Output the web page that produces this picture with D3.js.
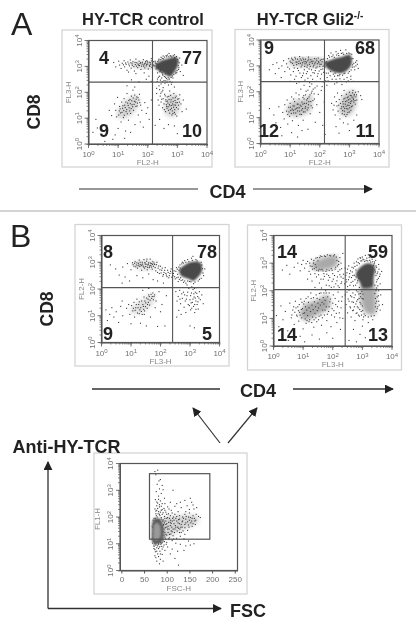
<!DOCTYPE html>
<html>
<head>
<meta charset="utf-8">
<script src="https://cdn.jsdelivr.net/npm/d3@7"></script>
<style>
html, body { margin: 0; padding: 0; background: #fff; }
svg { display: block; font-family: "Liberation Sans", Arial, sans-serif; }
</style>
</head>
<body>
<div id="chart"></div>
<script>
// TICK VALUES
const decades = [0, 1, 2, 3, 4];
const fscTicks = [0, 50, 100, 150, 200, 250];

// QUADRANT PERCENTAGES (UL, UR, LL, LR)
const a1Percent = [4, 77, 9, 10];
const a2Percent = [9, 68, 12, 11];
const b1Percent = [8, 78, 9, 5];
const b2Percent = [14, 59, 14, 13];

// AXIS NAMES
const a1Names = ["FL2-H", "FL3-H"];
const a2Names = ["FL2-H", "FL3-H"];
const b1Names = ["FL3-H", "FL2-H"];
const b2Names = ["FL3-H", "FL2-H"];
const cNames = ["FSC-H", "FL1-H"];

// DENSE BLOB OUTLINES, READ IN LOG DECADES
const a1Core = [[2.25,3.05],[2.42,3.2],[2.7,3.3],[2.97,3.36],[3.03,3.1],[2.92,2.82],[2.75,2.6],[2.55,2.72],[2.32,2.87]];
const a2Core = [[2.16,3.1],[2.4,3.24],[2.7,3.33],[3.02,3.42],[3.08,3.1],[2.92,2.82],[2.65,2.72],[2.32,2.85]];
const b1Core = [[2.64,2.72],[2.85,2.92],[3.1,3.02],[3.36,2.97],[3.4,2.65],[3.15,2.32],[2.95,2.38],[2.7,2.5]];
const b2Core = [[2.78,2.6],[2.95,2.87],[3.2,3.0],[3.42,2.87],[3.38,2.45],[3.34,2.15],[3.02,2.1],[2.92,2.3]];

// LOOSER CLOUD OUTLINES, DRAWN AS A FAINT HAZE UNDER THE POINTS
const b2HazeLow = [[2.95,2.15],[3.42,2.15],[3.46,1.6],[3.42,1.15],[3.1,1.2],[2.95,1.6]];
const b2HazeLeft = [[1.3,3.0],[1.72,3.22],[2.1,3.28],[2.16,2.95],[1.8,2.75],[1.35,2.78]];
const a2HazeLeft = [[1.0,3.22],[1.5,3.33],[2.1,3.27],[2.15,3.0],[1.6,2.95],[1.05,3.02]];
const a1HazeLow = [[2.55,1.25],[2.68,1.85],[2.98,1.88],[3.08,1.4],[2.85,1.05]];
const a2HazeLow = [[2.66,1.2],[2.8,1.85],[3.14,2.05],[3.25,1.6],[3.02,1.1]];
const b2HazeLL = [[0.9,1.1],[1.05,1.5],[1.45,1.65],[1.82,1.85],[1.9,1.4],[1.45,1.1],[1.1,0.92]];
const a2HazeLL = [[0.88,1.15],[1.05,1.6],[1.5,1.72],[1.72,1.9],[1.7,1.3],[1.3,1.05]];
const a1HazeLL = [[0.95,1.1],[1.15,1.55],[1.5,1.85],[1.72,1.75],[1.55,1.25],[1.2,1.0]];
const b1HazeUL = [[1.05,2.98],[1.5,3.08],[1.85,3.0],[1.8,2.75],[1.3,2.72]];
const b1HazeLL = [[0.95,1.2],[1.3,1.55],[1.75,1.82],[1.78,1.5],[1.3,1.08]];
const a1HazeUL = [[1.4,3.12],[1.9,3.18],[2.22,3.15],[2.2,2.92],[1.7,2.92]];

// POINTS, [x, y] READ IN LOG DECADES
const a1Points = [[0.85,3.15],[0.92,2.98],[1.02,3.2],[1.05,3.05],[1.1,2.92],[1.14,3.12],[1.2,3.22],[1.22,2.98],[1.27,3.08],[1.3,2.85],[1.33,3.17],[1.38,3.02],[1.41,3.25],[1.44,2.93],[1.47,3.1],[1.5,3.18],[1.53,2.99],[1.55,2.82],[1.58,3.07],[1.6,3.28],[1.63,3.14],[1.66,2.95],[1.69,3.05],[1.71,3.2],[1.74,3.11],[1.77,2.88],[1.79,3.01],[1.82,3.16],[1.85,3.26],[1.87,3.06],[1.9,2.94],[1.92,3.13],[1.95,3.02],[1.97,3.22],[2.0,3.09],[2.02,2.9],[2.05,3.16],[2.07,3.0],[2.1,3.08],[2.12,3.3],[2.14,2.96],[2.16,3.12],[2.18,3.04],[2.2,3.18],[1.35,2.78],[1.6,2.72],[1.88,2.75],[2.04,2.62],[1.45,2.48],[1.7,2.4],[1.95,2.5],[2.12,2.42],[1.3,2.25],[1.56,2.2],
[2.22,3.02],[2.25,3.2],[2.28,2.9],[2.3,3.1],[2.33,2.75],[2.36,2.95],[2.38,3.28],[2.4,2.62],[2.42,2.82],[2.45,3.35],[2.47,2.55],[2.5,2.7],[2.52,3.4],[2.55,2.45],[2.6,2.58],[2.62,3.42],[2.68,2.48],[2.72,3.5],[2.78,3.4],[2.85,2.55],[2.9,3.45],[2.95,2.72],[3.02,3.2],[3.05,2.95],[3.08,3.32],[3.1,2.8],[3.15,3.05],[3.2,2.65],[2.32,2.42],[2.38,2.25],[2.45,2.32],[2.52,2.18],[2.58,2.35],[2.3,2.15],[2.7,2.28],[2.82,2.38],[2.9,2.2],
[2.3,1.95],[2.35,1.7],[2.38,1.5],[2.42,1.85],[2.45,1.62],[2.48,2.02],[2.5,1.4],[2.52,1.75],[2.55,1.55],[2.57,1.92],[2.6,1.25],[2.62,1.65],[2.64,1.45],[2.66,1.82],[2.68,1.58],[2.7,1.3],[2.72,1.72],[2.74,2.05],[2.75,1.48],[2.77,1.88],[2.78,1.62],[2.8,1.38],[2.82,1.12],[2.84,1.55],[2.85,1.78],[2.87,1.42],[2.88,1.95],[2.9,1.22],[2.92,1.68],[2.94,1.5],[2.96,1.85],[2.98,1.08],[3.0,1.6],[3.03,1.35],[3.05,1.75],[3.08,1.9],[3.12,1.55],[3.16,1.25],[3.2,1.7],[2.55,0.6],[2.7,0.75],[2.4,0.95],[3.0,0.4],[2.9,0.7],[3.3,1.35],
[0.7,1.3],[0.78,1.1],[0.62,0.72],[0.88,1.55],[0.92,1.3],[0.95,1.05],[0.98,1.8],[1.0,0.6],[1.05,1.45],[1.08,1.2],[1.1,0.85],[1.12,1.62],[1.15,1.38],[1.18,1.02],[1.2,1.75],[1.22,1.5],[1.25,0.5],[1.27,1.25],[1.3,1.95],[1.32,1.58],[1.35,0.92],[1.37,1.4],[1.4,1.72],[1.42,1.18],[1.45,1.85],[1.47,1.52],[1.5,2.08],[1.52,1.3],[1.55,1.65],[1.57,0.75],[1.6,1.45],[1.63,1.82],[1.65,1.58],[1.68,1.12],[1.7,1.7],[1.72,1.92],[1.76,1.5],[1.8,1.3],[1.85,0.65],[1.9,1.6],[1.95,1.18],[2.0,1.4],[2.05,0.95],[2.12,1.7],[0.25,0.95],[0.3,0.62],[0.15,0.45],[0.55,0.1],[0.9,0.35],[1.22,0.22],[0.82,0.18],[1.42,0.45],[1.75,0.85],[2.25,0.72]];
const a1Extra = [[2.17,3.07],[2.13,3.21],[2.09,3.14],[2.06,3.04],[1.99,3.17],[1.96,3.08],[1.93,3.19],[1.89,3.1],[1.86,3.01],[1.81,3.09],[1.76,3.15],[1.72,3.03],[1.67,3.09],[1.62,3.01],[1.57,3.15],[1.48,3.04],[1.43,3.14],[1.36,3.09],[1.25,3.13],[1.18,3.06],
[2.26,3.13],[2.29,3.01],[2.31,2.94],[2.34,3.19],[2.37,3.24],[2.35,3.07],[2.41,2.79],[2.43,2.87],[2.44,3.26],[2.48,2.76],[2.49,3.31],[2.51,2.66],[2.53,3.29],[2.56,2.61],[2.57,3.36],[2.59,2.71],[2.63,2.53],[2.64,3.37],[2.67,3.44],[2.69,2.56],[2.71,3.37],[2.73,2.51],[2.76,3.41],[2.79,2.57],[2.81,3.36],[2.83,2.63],[2.86,3.41],[2.88,2.69],[2.91,3.34],[2.93,2.78],[2.97,3.38],[2.99,2.84],[3.01,3.27],[3.03,3.03],[3.06,3.14],[3.04,2.88],[2.98,2.77],[2.61,2.44],[2.66,2.39],[2.43,2.47],[2.49,2.41],[2.36,2.58],[2.33,2.51],[2.75,2.42],[2.8,2.31],
[2.59,1.86],[2.61,1.71],[2.63,1.52],[2.65,1.38],[2.67,1.66],[2.69,1.44],[2.71,1.84],[2.73,1.53],[2.76,1.33],[2.79,1.71],[2.81,1.49],[2.83,1.28],[2.86,1.64],[2.89,1.51],[2.91,1.33],[2.93,1.79],[2.95,1.6],[2.97,1.41],[3.01,1.73],[3.04,1.5],[2.74,1.19],[2.85,1.18],[2.93,1.15],[3.07,1.62],[2.56,1.33],[2.47,1.73],[2.44,1.96],[2.4,2.1],[2.51,2.08],
[1.02,1.12],[1.04,1.28],[1.07,1.36],[1.13,1.22],[1.16,1.48],[1.19,1.29],[1.21,1.11],[1.24,1.41],[1.26,1.62],[1.29,1.33],[1.31,1.17],[1.34,1.49],[1.36,1.68],[1.39,1.28],[1.41,1.56],[1.44,1.37],[1.46,1.67],[1.49,1.44],[1.51,1.78],[1.54,1.53],[1.56,1.89],[1.59,1.62],[1.61,1.73],[1.64,1.47],[1.67,1.79],[1.73,1.6]];

const a2Points = [[0.3,2.85],[0.42,3.05],[0.5,2.7],[0.55,3.12],[0.62,2.9],[0.7,2.55],[0.72,3.0],[0.78,3.2],[0.82,2.78],[0.88,3.08],[0.92,2.95],[0.95,3.28],[1.0,3.18],[1.02,2.65],[1.05,3.3],[1.08,3.1],[1.1,3.22],[1.14,2.92],[1.16,3.33],[1.2,3.15],[1.22,3.05],[1.25,3.26],[1.28,2.82],[1.3,3.18],[1.32,3.36],[1.35,3.1],[1.38,3.22],[1.4,3.03],[1.43,3.3],[1.45,2.72],[1.47,3.16],[1.5,3.08],[1.52,3.26],[1.55,3.12],[1.57,2.95],[1.6,3.2],[1.62,3.34],[1.65,3.06],[1.67,3.14],[1.7,3.24],[1.72,2.85],[1.75,3.1],[1.77,3.18],[1.8,3.02],[1.82,3.28],[1.85,3.14],[1.87,2.92],[1.9,3.2],[1.92,3.08],[1.95,3.3],[1.97,3.12],[2.0,2.98],[2.02,3.22],[2.05,3.06],[2.08,3.16],[2.1,2.88],[2.12,3.26],[2.15,3.02],[2.18,3.12],[1.0,2.4],[1.15,2.48],[1.2,2.6],[1.3,2.38],[1.38,2.55],[1.42,2.62],[1.5,2.45],[1.55,2.7],[1.6,2.52],[1.66,2.35],[1.7,2.62],[1.76,2.48],[1.82,2.72],[1.88,2.4],[1.92,2.6],[1.98,2.8],[2.02,2.5],[2.06,2.68],[2.12,2.38],[2.16,2.62],
[2.22,2.72],[2.25,2.55],[2.28,2.42],[2.3,3.4],[2.35,2.62],[2.38,3.5],[2.42,2.48],[2.45,3.42],[2.5,2.6],[2.55,3.55],[2.58,2.35],[2.62,3.48],[2.65,2.62],[2.7,3.6],[2.72,2.4],[2.78,3.5],[2.82,2.7],[2.88,3.62],[2.92,2.55],[2.98,3.5],[3.0,2.78],[3.05,2.6],[3.08,3.45],[3.1,2.95],[3.12,3.28],[3.15,3.1],[3.18,2.85],[3.22,3.0],[3.25,3.2],[3.3,2.9],[3.14,2.4],[2.5,2.3],[2.75,2.28],[2.9,2.38],
[2.4,1.55],[2.45,1.3],[2.5,1.8],[2.52,1.1],[2.58,1.45],[2.6,1.95],[2.62,1.25],[2.66,1.7],[2.68,0.95],[2.7,1.55],[2.72,1.35],[2.74,1.85],[2.76,1.15],[2.78,1.62],[2.8,1.42],[2.82,2.05],[2.83,1.25],[2.85,1.75],[2.86,1.52],[2.88,1.05],[2.9,1.9],[2.91,1.35],[2.92,1.65],[2.94,1.48],[2.95,1.2],[2.96,1.8],[2.98,1.58],[3.0,1.98],[3.01,1.38],[3.02,1.72],[3.04,1.55],[3.05,1.28],[3.06,1.85],[3.08,1.65],[3.1,1.45],[3.12,2.05],[3.13,1.75],[3.15,1.6],[3.17,1.9],[3.2,1.52],[3.22,1.8],[3.25,1.68],[3.3,2.0],[3.38,1.85],[3.42,1.7],[2.55,0.65],[2.8,0.8],[3.0,0.5],[2.65,0.4],[3.15,0.9],[2.95,0.75],[3.25,1.1],
[0.3,1.35],[0.45,1.1],[0.52,0.8],[0.62,1.42],[0.68,0.62],[0.75,1.2],[0.8,0.95],[0.82,1.5],[0.88,1.25],[0.9,1.68],[0.92,0.75],[0.95,1.4],[0.98,1.05],[1.0,1.55],[1.02,1.28],[1.05,1.8],[1.08,0.88],[1.1,1.45],[1.12,1.18],[1.15,1.62],[1.17,1.32],[1.2,1.95],[1.22,1.05],[1.24,1.52],[1.26,1.38],[1.28,0.7],[1.3,1.72],[1.32,1.25],[1.34,1.48],[1.36,2.1],[1.38,1.12],[1.4,1.6],[1.42,1.35],[1.44,0.9],[1.46,1.85],[1.48,1.55],[1.5,1.22],[1.52,1.42],[1.54,2.02],[1.56,1.68],[1.58,1.3],[1.6,0.55],[1.62,1.5],[1.64,1.8],[1.66,2.2],[1.68,1.15],[1.7,1.62],[1.72,1.95],[1.75,1.38],[1.78,2.1],[1.82,1.72],[1.85,0.82],[1.9,1.5],[1.95,1.9],[2.0,1.2],[2.05,2.05],[2.1,0.7],[2.15,1.6],[2.18,0.35],[1.05,0.42],[1.25,0.25],[0.72,0.3],[1.4,0.5],[0.45,0.45]];
const a2Extra = [[1.03,3.13],[1.07,3.25],[1.12,3.02],[1.18,3.27],[1.23,3.14],[1.29,3.09],[1.34,3.27],[1.37,2.96],[1.42,3.12],[1.46,3.24],[1.49,2.98],[1.53,3.17],[1.58,3.03],[1.63,3.26],[1.68,2.98],[1.73,3.17],[1.78,2.96],[1.83,3.08],[1.88,3.27],[1.91,2.96],[1.96,3.16],[2.01,3.06],[2.07,3.25],[2.11,2.98],[0.98,2.88],[1.11,2.78],[1.25,2.9],[1.33,2.72],[1.48,2.85],[1.58,2.78],[1.64,2.88],[1.77,2.74],[1.85,2.82],[1.94,2.7],[2.04,2.86],[2.13,2.75],[1.22,2.32],[1.47,2.25],[1.73,2.3],[1.91,2.22],[2.08,2.2],[2.2,2.42],[2.24,2.25],
[2.18,2.96],[2.22,3.16],[2.26,3.28],[2.29,2.72],[2.33,3.34],[2.37,2.78],[2.41,3.36],[2.46,2.68],[2.49,3.33],[2.52,2.72],[2.57,3.42],[2.6,2.62],[2.64,3.4],[2.68,2.66],[2.73,3.48],[2.77,2.64],[2.81,3.44],[2.85,2.72],[2.91,3.48],[2.96,2.72],[3.02,3.47],[3.08,3.28],[3.11,3.04],[3.06,2.84],[3.16,2.96],[3.21,3.14],[3.27,3.06],[2.55,2.48],[2.68,2.5],[2.82,2.48],[2.96,2.42],[3.05,2.48],
[2.74,1.42],[2.77,1.27],[2.79,1.53],[2.81,1.72],[2.84,1.36],[2.87,1.62],[2.89,1.44],[2.93,1.77],[2.95,1.33],[2.97,1.69],[2.99,1.47],[3.03,1.86],[3.05,1.62],[3.07,1.42],[3.09,1.79],[3.11,1.96],[3.14,1.69],[3.16,1.84],[3.19,1.66],[3.21,1.98],[3.24,1.88],[2.83,1.12],[2.92,1.12],[3.0,1.22],[2.64,1.48],[2.56,1.62],[2.48,1.48],
[0.92,1.12],[0.96,1.22],[1.01,1.4],[1.04,1.16],[1.07,1.33],[1.11,1.28],[1.14,1.45],[1.19,1.18],[1.21,1.36],[1.25,1.26],[1.27,1.52],[1.31,1.38],[1.33,1.13],[1.37,1.44],[1.39,1.29],[1.43,1.52],[1.45,1.22],[1.47,1.72],[1.51,1.36],[1.55,1.55],[1.59,1.74],[1.61,1.38],[1.63,1.62],[1.67,1.88],[1.71,1.46],[1.74,2.02],[1.77,1.66],[1.81,1.92],[1.84,2.15],[1.6,2.06],[1.52,1.88],[1.43,1.78],[1.3,1.88],[1.12,1.72]];

const b1Points = [[0.3,2.9],[0.48,2.75],[0.6,2.52],[0.72,2.82],[0.8,2.45],[0.88,2.95],[1.0,2.72],[1.05,2.98],[1.1,2.85],[1.14,3.02],[1.18,2.9],[1.22,2.78],[1.25,2.96],[1.28,3.08],[1.3,2.84],[1.33,2.92],[1.36,2.7],[1.38,3.0],[1.41,2.86],[1.44,3.1],[1.46,2.78],[1.48,2.94],[1.5,2.84],[1.53,3.04],[1.55,2.72],[1.57,2.9],[1.6,2.98],[1.62,2.8],[1.65,3.12],[1.67,2.88],[1.7,2.95],[1.72,2.74],[1.74,3.02],[1.76,2.85],[1.8,2.92],[1.84,2.68],[1.88,3.0],[1.92,2.78],[1.96,2.58],[2.0,2.85],[2.04,2.7],[2.08,2.48],[2.12,2.62],[2.16,2.8],[2.2,2.52],[2.24,2.7],[2.28,2.42],[2.32,2.58],[2.36,2.75],[1.2,2.5],[1.4,2.42],[1.6,2.56],[1.75,2.35],[1.9,2.3],[2.1,2.22],[0.7,2.22],[0.95,2.3],
[2.42,2.5],[2.46,2.68],[2.5,2.38],[2.54,2.8],[2.58,2.55],[2.6,2.28],[2.63,2.7],[2.66,2.9],[2.7,2.32],[2.74,3.0],[2.78,2.25],[2.82,3.06],[2.86,2.22],[2.92,3.1],[2.98,2.28],[3.05,3.15],[3.12,2.2],[3.2,3.1],[3.28,2.3],[3.4,2.9],[3.44,2.6],[3.38,2.4],[3.5,2.75],[3.1,3.22],[2.9,2.15],
[2.52,1.9],[2.56,1.55],[2.6,1.72],[2.62,1.2],[2.65,1.95],[2.68,1.45],[2.7,1.05],[2.74,1.65],[2.78,1.88],[2.8,1.32],[2.84,1.55],[2.86,1.12],[2.9,1.75],[2.94,1.42],[2.96,2.02],[3.0,1.6],[3.02,1.22],[3.05,1.85],[3.08,1.5],[3.1,1.98],[3.12,1.35],[3.14,1.7],[3.16,1.12],[3.18,1.88],[3.2,1.55],[3.22,2.05],[3.24,1.42],[3.26,1.72],[3.28,1.25],[3.32,1.9],[3.35,1.6],[3.4,1.78],[3.45,1.45],[3.0,0.62],[3.15,0.55],[2.55,0.95],
[0.15,1.22],[0.2,0.82],[0.28,1.05],[0.35,1.3],[0.42,0.95],[0.5,1.15],[0.58,0.75],[0.65,1.35],[0.72,1.0],[0.85,1.28],[0.92,1.42],[0.96,1.05],[1.0,0.7],[1.02,1.38],[1.06,1.18],[1.1,1.5],[1.12,0.95],[1.16,1.3],[1.2,1.62],[1.22,1.1],[1.26,1.42],[1.3,1.22],[1.32,0.72],[1.36,1.55],[1.38,1.05],[1.42,1.35],[1.44,1.7],[1.46,1.18],[1.5,1.48],[1.52,0.62],[1.55,1.28],[1.58,1.62],[1.6,1.78],[1.63,1.4],[1.66,0.95],[1.7,1.65],[1.74,1.85],[1.78,1.72],[1.82,1.3],[1.85,1.55],[1.9,0.6],[1.95,1.9],[2.05,1.42],[2.15,0.62],[2.2,1.75],[0.7,1.55],[1.4,1.95],[1.6,2.02],[2.0,1.15]];
const b1Extra = [[1.07,2.91],[1.12,2.96],[1.16,2.83],[1.2,2.98],[1.24,2.87],[1.27,2.9],[1.31,3.0],[1.35,2.88],[1.39,2.93],[1.43,2.82],[1.47,2.99],[1.51,2.92],[1.54,3.12],[1.56,2.81],[1.59,2.93],[1.63,2.86],[1.66,2.97],[1.69,2.82],[1.73,2.92],[1.78,2.97],[1.82,2.8],[1.86,2.91],[1.9,2.62],[1.94,2.86],[1.98,2.72],[2.02,2.6],[2.06,2.78],[2.1,2.54],[2.14,2.7],[2.18,2.58],[2.22,2.46],[2.26,2.62],[2.3,2.5],[2.34,2.66],[2.38,2.44],[2.4,2.6],
[2.44,2.58],[2.48,2.46],[2.52,2.66],[2.55,2.42],[2.57,2.74],[2.6,2.44],[2.62,2.82],[2.64,2.36],[2.67,2.78],[2.68,2.42],[2.72,2.94],[2.75,2.34],[2.78,2.97],[2.82,2.3],[2.86,3.0],[2.92,2.3],[2.96,3.02],[3.03,2.27],[3.08,3.07],[3.17,2.26],[3.24,3.05],[3.32,2.36],[3.38,3.0],[3.42,2.76],[3.46,2.5],
[2.88,1.62],[2.92,1.88],[2.98,1.38],[3.02,1.75],[3.04,1.48],[3.06,1.28],[3.1,1.62],[3.13,1.82],[3.16,1.42],[3.18,1.66],[3.2,1.24],[3.23,1.84],[3.27,1.52],[3.3,1.66],[2.82,1.78],[2.72,1.82],[2.66,1.62],[3.15,2.02],[3.06,2.08],
[1.08,1.28],[1.14,1.2],[1.18,1.42],[1.24,1.3],[1.28,1.52],[1.33,1.3],[1.35,1.16],[1.4,1.42],[1.43,1.24],[1.47,1.55],[1.49,1.34],[1.53,1.66],[1.56,1.42],[1.59,1.5],[1.62,1.72],[1.65,1.58],[1.68,1.8],[1.72,1.72],[1.76,1.6],[1.8,1.78],[1.28,1.08],[1.45,1.05]];

const b2Points = [[0.3,2.75],[0.45,2.92],[0.55,2.6],[0.7,2.85],[0.82,3.0],[0.9,2.72],[0.95,2.95],[1.0,3.1],[1.05,2.82],[1.1,2.98],[1.15,3.06],[1.2,2.7],[1.24,2.9],[1.28,3.14],[1.32,2.78],[1.35,3.0],[1.4,2.62],[1.44,2.85],[1.48,3.2],[1.52,2.72],[1.58,3.26],[1.64,2.78],[1.7,2.62],[1.75,3.24],[1.8,2.76],[1.86,2.55],[1.9,3.28],[1.95,2.8],[2.0,2.62],[2.06,3.3],[2.1,2.85],[2.14,3.1],[2.18,2.7],[2.2,2.95],[2.24,3.2],[2.28,2.5],[2.3,2.8],[2.34,3.35],[1.15,2.42],[1.3,2.35],[1.45,2.5],[1.55,2.28],[1.68,2.42],[1.78,2.2],[1.85,2.38],[1.95,2.12],[2.02,2.42],[2.1,2.25],[2.16,2.5],[2.22,2.12],[2.3,2.32],[1.4,2.12],[1.62,2.1],
[2.36,2.6],[2.4,2.25],[2.42,2.82],[2.45,2.4],[2.48,2.65],[2.5,2.15],[2.54,2.9],[2.56,2.5],[2.6,2.72],[2.62,2.3],[2.65,2.85],[2.68,2.55],[2.7,2.18],[2.72,3.0],[2.75,2.4],[2.78,2.75],[2.8,3.05],[2.82,2.28],[2.85,3.15],[2.88,2.45],[2.9,2.12],[2.92,3.2],[2.95,3.08],[3.0,3.22],[3.05,3.12],[3.1,3.28],[3.15,3.18],[3.2,3.3],[3.25,3.1],[3.3,3.2],[3.35,3.05],[3.4,2.98],[3.42,2.75],[3.45,3.1],[3.46,2.55],[3.48,2.85],[3.5,2.4],[3.52,2.68],[3.55,2.95],[3.58,2.52],[3.6,2.25],[3.42,2.2],[3.48,2.1],[3.55,2.0],[3.65,2.7],
[2.42,1.85],[2.45,1.5],[2.48,1.95],[2.5,1.2],[2.52,1.7],[2.55,2.02],[2.58,1.42],[2.6,1.82],[2.62,1.05],[2.65,1.6],[2.68,1.92],[2.7,1.3],[2.72,1.75],[2.75,0.92],[2.78,1.52],[2.8,2.0],[2.82,1.2],[2.84,1.68],[2.86,1.38],[2.88,1.88],[2.9,1.08],[2.92,1.58],[2.94,1.78],[2.96,1.25],[2.98,1.98],[3.0,1.45],[3.02,0.95],[3.03,1.7],[3.42,1.9],[3.45,1.55],[3.47,1.25],[3.5,1.78],[3.52,1.42],[3.55,1.62],[3.6,1.3],[3.62,1.85],[3.68,1.5],[2.7,0.6],[3.0,0.72],[3.2,0.85],[2.92,0.42],[3.1,0.3],[3.35,0.95],[2.55,0.2],[3.28,0.55],[2.8,0.15],
[0.1,1.1],[0.18,0.7],[0.25,1.45],[0.32,0.95],[0.4,1.25],[0.48,0.55],[0.55,1.55],[0.6,1.02],[0.65,1.3],[0.7,0.78],[0.74,1.62],[0.78,1.12],[0.82,1.42],[0.85,0.9],[0.88,1.22],[0.92,1.7],[0.95,1.02],[0.98,1.35],[1.0,0.62],[1.02,1.52],[1.05,1.2],[1.08,1.42],[1.1,0.82],[1.12,1.3],[1.15,1.1],[1.18,1.58],[1.2,1.38],[1.22,0.95],[1.25,1.25],[1.27,1.72],[1.3,1.48],[1.32,1.05],[1.34,1.32],[1.36,0.68],[1.38,1.6],[1.4,1.18],[1.42,1.42],[1.44,1.85],[1.46,0.88],[1.48,1.28],[1.5,1.55],[1.52,1.38],[1.54,1.08],[1.56,1.68],[1.58,1.48],[1.6,1.92],[1.62,0.75],[1.64,1.58],[1.66,1.3],[1.68,1.75],[1.7,1.52],[1.72,1.12],[1.74,1.65],[1.76,2.0],[1.78,1.42],[1.8,0.92],[1.83,1.78],[1.86,1.25],[1.9,1.6],[1.94,0.7],[1.98,1.35],[2.02,1.85],[2.06,1.05],[2.1,1.5],[2.14,0.85],[2.18,1.95],[2.22,1.2],[2.26,0.6],[2.3,1.62],[2.34,1.0],[0.5,0.2],[0.9,0.35],[1.05,0.15],[1.3,0.4],[1.55,0.25],[2.0,0.28],[1.8,0.48],[0.7,0.28]];
const b2Extra = [[1.22,3.0],[1.3,2.88],[1.36,3.1],[1.38,2.8],[1.41,2.95],[1.43,3.18],[1.46,2.74],[1.5,3.08],[1.54,2.78],[1.56,3.2],[1.6,2.76],[1.63,3.24],[1.67,2.72],[1.72,3.26],[1.77,2.7],[1.82,3.3],[1.88,2.74],[1.93,3.26],[1.98,2.74],[2.03,3.26],[2.08,2.78],[2.12,3.22],[2.16,2.9],[2.2,3.06],[2.24,2.76],[2.28,3.0],[1.25,2.6],[1.52,2.58],[1.6,2.42],[1.72,2.52],[1.8,2.6],[1.9,2.48],[1.98,2.34],[2.06,2.55],[2.14,2.36],[2.24,2.58],[2.28,2.26],[2.35,2.45],[1.88,2.18],[2.04,2.14],[2.18,2.18],
[2.44,2.56],[2.47,2.32],[2.5,2.78],[2.53,2.4],[2.57,2.62],[2.58,2.2],[2.63,2.48],[2.66,2.68],[2.68,2.34],[2.7,2.82],[2.73,2.56],[2.75,2.88],[2.77,2.2],[2.79,2.5],[2.82,2.92],[2.84,2.36],[2.86,3.02],[2.9,2.98],[2.94,3.18],[2.98,3.08],[3.02,3.14],[3.08,3.06],[3.13,3.1],[3.18,3.08],[3.23,3.2],[3.28,3.04],[3.33,3.14],[3.38,2.92],[3.41,3.04],[3.44,2.68],[3.46,2.9],[3.48,2.32],[3.5,2.62],[3.52,2.18],[3.54,2.45],[3.56,2.78],[3.6,2.6],
[2.55,1.62],[2.6,1.38],[2.64,1.78],[2.67,1.28],[2.7,1.58],[2.73,1.42],[2.76,1.85],[2.79,1.18],[2.81,1.62],[2.83,1.42],[2.85,1.96],[2.87,1.12],[2.89,1.72],[2.91,1.32],[2.93,1.9],[2.95,1.52],[2.97,1.12],[2.99,1.72],[3.01,1.28],[3.02,1.88],[3.04,1.05],[3.06,1.16],[3.1,1.1],[3.2,1.05],[3.3,1.08],[3.4,1.1],[3.44,1.42],[3.44,1.72],[3.46,2.0],[3.48,1.62],[3.5,1.35],[3.54,1.82],[3.57,1.48],
[0.62,1.12],[0.68,1.42],[0.72,1.22],[0.76,1.38],[0.8,1.08],[0.84,1.28],[0.87,1.5],[0.9,1.12],[0.94,1.32],[0.96,1.58],[1.0,1.18],[1.04,1.62],[1.07,0.98],[1.1,1.72],[1.13,0.92],[1.17,1.78],[1.2,0.88],[1.26,1.92],[1.29,0.85],[1.35,1.75],[1.37,0.95],[1.43,1.02],[1.47,1.72],[1.52,0.95],[1.55,1.9],[1.6,1.12],[1.65,1.02],[1.7,1.92],[1.74,1.3],[1.78,1.92],[1.82,1.15],[1.88,1.42],[1.88,1.92],[1.92,1.7],[1.96,1.12],[2.0,1.55],[2.04,1.28],[2.08,1.72],[2.12,1.18],[2.16,1.42],[2.2,1.62],[2.24,1.02],[2.28,1.38],[2.32,1.78]];

// GATED PANEL POINTS, [FSC, LOG DECADES]
const cPoints = [[74,3.7],[80,3.75],[76,3.58],[83,3.35],[86,3.4],[79,3.22],[90,3.18],[84,3.05],[92,3.02],[77,2.95],[88,2.88],[114,3.0],[82,2.78],[95,2.7],[75,2.65],[86,2.6],[80,2.52],[90,2.5],[78,2.42],[84,2.38],[94,2.32],[74,2.3],[88,2.25],[82,2.2],[98,2.18],[76,2.12],[90,2.1],[85,2.05],[79,2.0],[95,2.02],[72,1.95],[88,1.92],[100,1.95],[83,1.88],
[105,2.3],[112,2.15],[118,2.4],[125,2.2],[132,2.35],[140,2.1],[145,2.42],[150,2.28],[155,2.55],[160,2.3],[148,2.0],[158,2.05],[165,2.1],[170,2.02],[162,1.85],[153,1.78],[142,1.92],[135,1.85],[128,2.05],[120,1.95],[112,1.85],[104,1.8],[98,1.72],[108,1.68],[116,1.75],[124,1.62],[132,1.72],[140,1.6],[148,1.7],[156,1.65],[146,1.5],[136,1.48],[128,1.42],[118,1.55],[110,1.48],[102,1.55],[96,1.42],[106,1.35],[114,1.3],[122,1.2],[130,1.28],[140,1.35],[96,1.25],[104,1.18],[112,1.12],[92,1.1],[100,1.05],[120,1.02],[130,0.98],[142,0.92],[152,0.95],[160,1.0],[148,1.1],[138,1.18],
[108,2.05],[115,2.0],[122,1.85],[128,1.75],[135,2.0],[142,1.78],[150,1.88],[156,1.95],[163,1.72],[92,1.68],[100,1.62],[106,1.95],[94,1.85],[100,2.1],[110,2.25],[118,2.1],[126,1.9],[134,1.62],[142,2.2],[150,2.15],[102,2.38],[96,2.5],[108,2.55],[122,2.5],[130,2.55],[140,2.62],[152,2.7],[166,2.35],[174,1.98],[158,2.45],
[72,0.95],[75,0.7],[78,0.85],[82,0.98],[85,0.72],[88,0.9],[74,0.55],[80,0.62],[86,0.42],[90,0.6],[78,0.35],[84,0.25],[92,0.35],[96,0.75],[102,0.88],[108,0.62],[112,0.8],[118,0.45],[124,0.72],[126,0.2],[138,0.75],[70,1.1],[68,1.2],[69,1.35],[70,1.5],[68,1.65],[71,1.75],[70,1.88],[69,1.02],[72,0.82],[73,1.05],[76,1.08],[80,1.05],[84,1.1],[88,1.02],[94,0.95],
[90,1.3],[92,1.45],[90,1.6],[93,1.72],[91,1.85],[88,1.98],[84,2.1],[78,2.25],[86,1.75],[94,1.55],[96,1.95],[98,1.35],[90,1.15],[86,1.05],[78,1.12],[74,1.02],[72,1.3],[72,1.55],[73,1.8],[75,1.95]];
const cExtra = [[77,2.05],[81,2.12],[86,2.18],[80,2.32],[76,2.22],[90,2.28],[84,2.46],[78,2.56],[82,2.66],[88,2.4],[92,2.16],[96,2.25],[98,1.85],[102,1.98],[104,2.12],[108,1.88],[110,1.76],[113,1.95],[116,1.88],[119,1.68],[122,2.02],[125,1.78],[128,1.92],[131,1.62],[134,1.82],[137,1.95],[140,1.72],[143,2.02],[146,1.82],[149,1.62],[152,1.98],[155,1.85],[158,1.75],[161,1.95],[164,1.88],[92,1.9],[95,1.78],[97,1.6],[100,1.75],[103,1.65],[105,1.55],[108,1.8],[111,1.62],[114,1.55],[117,1.42],[120,1.62],[123,1.48],[126,1.58],[129,1.55],[132,1.42],[94,1.32],[97,1.18],[100,1.32],[103,1.42],[106,1.22],[109,1.36],[112,1.45],[115,1.18],[92,1.22],[95,1.08],[99,0.98],
[69,1.25],[70,1.42],[69,1.6],[70,1.72],[72,0.9],[74,0.78],[76,0.95],[78,0.72],[80,0.92],[82,0.82],[84,0.88],[76,1.0],[73,1.12],[82,1.02],[87,0.98],[90,1.04],[92,0.88],[90,0.8],[86,0.62],[76,0.48],[82,0.52]];
const cCore = [[68,1.08],[67,1.5],[69,1.86],[78,1.96],[89,1.86],[94,1.45],[90,1.08],[78,0.98]];
const cCoreInner = [[71,1.2],[71,1.6],[76,1.78],[85,1.68],[87,1.32],[80,1.14]];
const cHazeFan = [[90,1.2],[90,1.9],[120,2.05],[165,2.05],[165,1.75],[125,1.45]];

// GATE IN FSC / DECADES
const cGate = [[62, 195], [1.17, 3.62]];

const width = 416;
const height = 631;

let svg = d3.select("#chart").append("svg")
    .attr("width", width)
    .attr("height", height);

const defs = svg.append("defs");
defs.append("filter").attr("id", "soft").append("feGaussianBlur").attr("stdDeviation", 0.3);
defs.append("filter").attr("id", "blob").append("feGaussianBlur").attr("stdDeviation", 1);
defs.append("filter").attr("id", "haze").append("feGaussianBlur").attr("stdDeviation", 2);

const root = svg.append("g").attr("filter", "url(#soft)");

const marker = defs.append("marker")
    .attr("id", "head")
    .attr("markerUnits", "userSpaceOnUse")
    .attr("viewBox", "0 0 10 10")
    .attr("refX", 9).attr("refY", 5)
    .attr("markerWidth", 9).attr("markerHeight", 9)
    .attr("orient", "auto");
marker.append("path").attr("d", "M0,0L10,5L0,10Z").attr("fill", "#222");

// DECADE LABEL: 10 WITH A RAISED EXPONENT
function decadeLabel(sel, d) {
    sel.text("10");
    sel.append("tspan").attr("dy", -2.5).style("font-size", "6px").text(d);
}

function minorTicks() {
    let out = [];
    for (let e = 0; e < 4; e++) {
        for (let m = 1; m < 10; m++) out.push(m * Math.pow(10, e));
    }
    out.push(10000);
    return out;
}

function drawLogY(g, y, x0) {
    let axis = d3.axisLeft(y).tickValues(minorTicks()).tickFormat("").tickSize(2).tickSizeOuter(0);
    let ax = g.append("g").attr("transform", "translate(" + x0 + ",0)").call(axis);
    ax.select(".domain").attr("stroke", "#555");
    ax.selectAll("line").attr("stroke", "#555").attr("stroke-width", 0.7);
    decades.forEach(function (d) {
        ax.append("line").attr("x1", -4).attr("x2", 0)
            .attr("y1", y(Math.pow(10, d))).attr("y2", y(Math.pow(10, d)))
            .attr("stroke", "#555").attr("stroke-width", 0.8);
        let t = ax.append("text")
            .attr("transform", "translate(-7," + y(Math.pow(10, d)) + ") rotate(-90)")
            .attr("text-anchor", "middle")
            .attr("fill", "#707070").style("font-size", "8px");
        decadeLabel(t, d);
    });
}

function drawLogX(g, x, y0) {
    let axis = d3.axisBottom(x).tickValues(minorTicks()).tickFormat("").tickSize(2).tickSizeOuter(0);
    let ax = g.append("g").attr("transform", "translate(0," + y0 + ")").call(axis);
    ax.select(".domain").attr("stroke", "#555");
    ax.selectAll("line").attr("stroke", "#555").attr("stroke-width", 0.7);
    decades.forEach(function (d) {
        ax.append("line").attr("y1", 0).attr("y2", 4)
            .attr("x1", x(Math.pow(10, d))).attr("x2", x(Math.pow(10, d)))
            .attr("stroke", "#555").attr("stroke-width", 0.8);
        let t = ax.append("text")
            .attr("x", x(Math.pow(10, d))).attr("y", 13)
            .attr("text-anchor", "middle")
            .attr("fill", "#707070").style("font-size", "8px");
        decadeLabel(t, d);
    });
}

// QUADRANT PANEL
function drawPanel(p) {
    let g = root.append("g");

    g.append("rect")
        .attr("x", p.frame[0]).attr("y", p.frame[1])
        .attr("width", p.frame[2] - p.frame[0]).attr("height", p.frame[3] - p.frame[1])
        .attr("fill", "none").attr("stroke", "#d4d4d4").attr("stroke-width", 1.3);

    let x = d3.scaleLog().domain([1, 10000]).range([p.plot[0], p.plot[2]]);
    let y = d3.scaleLog().domain([1, 10000]).range([p.plot[3], p.plot[1]]);
    let line = d3.line()
        .x(d => x(Math.pow(10, d[0])))
        .y(d => y(Math.pow(10, d[1])))
        .curve(d3.curveCardinalClosed);

    g.selectAll(".haze").data(p.haze).enter().append("path")
        .attr("d", d => line(d)).attr("fill", "#555").attr("opacity", p.hazeOpacity)
        .attr("filter", "url(#haze)");

    g.selectAll(".core").data(p.cores).enter().append("path")
        .attr("d", d => line(d)).attr("fill", "#484848").attr("filter", "url(#blob)");

    g.selectAll(".dot").data(p.points).enter().append("rect")
        .attr("x", d => x(Math.pow(10, d[0])) - 0.55)
        .attr("y", d => y(Math.pow(10, d[1])) - 0.55)
        .attr("width", 1.1).attr("height", 1.1)
        .attr("fill", "#3c3c3c");

    g.append("rect")
        .attr("x", p.plot[0]).attr("y", p.plot[1])
        .attr("width", p.plot[2] - p.plot[0]).attr("height", p.plot[3] - p.plot[1])
        .attr("fill", "none").attr("stroke", "#555").attr("stroke-width", 1.2);

    g.append("line").attr("x1", x(p.gate[0])).attr("x2", x(p.gate[0]))
        .attr("y1", p.plot[1]).attr("y2", p.plot[3])
        .attr("stroke", "#555").attr("stroke-width", 1.1);
    g.append("line").attr("x1", p.plot[0]).attr("x2", p.plot[2])
        .attr("y1", y(p.gate[1])).attr("y2", y(p.gate[1]))
        .attr("stroke", "#555").attr("stroke-width", 1.1);

    drawLogX(g, x, p.plot[3]);
    drawLogY(g, y, p.plot[0]);

    g.append("text").attr("x", (p.plot[0] + p.plot[2]) / 2).attr("y", p.plot[3] + 21)
        .attr("text-anchor", "middle").attr("fill", "#888").style("font-size", "8px").text(p.names[0]);
    g.append("text")
        .attr("transform", "translate(" + (p.plot[0] - 18) + "," + ((p.plot[1] + p.plot[3]) / 2) + ") rotate(-90)")
        .attr("text-anchor", "middle").attr("fill", "#888").style("font-size", "8px").text(p.names[1]);

    g.selectAll(".pct").data(p.percent).enter().append("text")
        .attr("x", (d, i) => p.labelX[i % 2])
        .attr("y", (d, i) => p.labelY[i < 2 ? 0 : 1])
        .attr("text-anchor", "middle")
        .attr("font-weight", "bold").attr("fill", "#222")
        .style("font-size", "18px")
        .text(d => d);
}

drawPanel({ frame: [62, 30, 212, 167], plot: [88.5, 40.5, 207, 144], gate: [Math.pow(10, 2.16), Math.pow(10, 2.39)],
    points: a1Points.concat(a1Extra), cores: [a1Core], haze: [a1HazeLow, a1HazeLL, a1HazeUL], hazeOpacity: 0.25, percent: a1Percent, names: a1Names, labelX: [104, 192], labelY: [64, 137] });
drawPanel({ frame: [235, 29.5, 389, 167], plot: [260.5, 40, 379, 143.5], gate: [Math.pow(10, 2.16), Math.pow(10, 2.39)],
    points: a2Points.concat(a2Extra), cores: [a2Core], haze: [a2HazeLeft, a2HazeLow, a2HazeLL], hazeOpacity: 0.35, percent: a2Percent, names: a2Names, labelX: [269, 365], labelY: [54, 137] });
drawPanel({ frame: [75, 224.5, 229, 366], plot: [101.5, 235.5, 219.5, 342.5], gate: [Math.pow(10, 2.41), Math.pow(10, 2.05)],
    points: b1Points.concat(b1Extra), cores: [b1Core], haze: [b1HazeUL, b1HazeLL], hazeOpacity: 0.18, percent: b1Percent, names: b1Names, labelX: [108, 207], labelY: [258, 340] });
drawPanel({ frame: [247.5, 225, 401.5, 370], plot: [273.5, 235.5, 392, 346], gate: [Math.pow(10, 2.42), Math.pow(10, 2.04)],
    points: b2Points.concat(b2Extra), cores: [b2Core], haze: [b2HazeLow, b2HazeLeft, b2HazeLL], hazeOpacity: 0.5, percent: b2Percent, names: b2Names, labelX: [287, 378], labelY: [258, 341] });

// GATED FSC PANEL
function drawGatePanel() {
    let g = root.append("g");
    let frame = [94, 453, 247, 594];
    let plot = [120, 463.5, 237.5, 570.5];

    g.append("rect")
        .attr("x", frame[0]).attr("y", frame[1])
        .attr("width", frame[2] - frame[0]).attr("height", frame[3] - frame[1])
        .attr("fill", "none").attr("stroke", "#d4d4d4").attr("stroke-width", 1.3);

    let x = d3.scaleLinear().domain([-3, 256]).range([plot[0], plot[2]]);
    let y = d3.scaleLog().domain([1, 10000]).range([plot[3], plot[1]]);
    let line = d3.line()
        .x(d => x(d[0]))
        .y(d => y(Math.pow(10, d[1])))
        .curve(d3.curveCardinalClosed);

    g.append("path").attr("d", line(cHazeFan)).attr("fill", "#555").attr("opacity", 0.25).attr("filter", "url(#haze)");

    g.selectAll(".dot").data(cPoints.concat(cExtra)).enter().append("rect")
        .attr("x", d => x(d[0]) - 0.55)
        .attr("y", d => y(Math.pow(10, d[1])) - 0.55)
        .attr("width", 1.1).attr("height", 1.1)
        .attr("fill", "#3c3c3c");

    g.append("path").attr("d", line(cCore)).attr("fill", "#5c5c5c").attr("filter", "url(#blob)");
    g.append("path").attr("d", line(cCoreInner)).attr("fill", "#9a9a9a").attr("filter", "url(#blob)");

    g.append("rect")
        .attr("x", plot[0]).attr("y", plot[1])
        .attr("width", plot[2] - plot[0]).attr("height", plot[3] - plot[1])
        .attr("fill", "none").attr("stroke", "#555").attr("stroke-width", 1.2);

    g.append("rect")
        .attr("x", x(cGate[0][0])).attr("y", y(Math.pow(10, cGate[1][1])))
        .attr("width", x(cGate[0][1]) - x(cGate[0][0]))
        .attr("height", y(Math.pow(10, cGate[1][0])) - y(Math.pow(10, cGate[1][1])))
        .attr("fill", "none").attr("stroke", "#555").attr("stroke-width", 1.2);

    let xAxis = d3.axisBottom(x).tickValues(fscTicks).tickSize(3).tickSizeOuter(0);
    let ax = g.append("g").attr("transform", "translate(0," + plot[3] + ")").call(xAxis);
    ax.select(".domain").attr("stroke", "#555");
    ax.selectAll("line").attr("stroke", "#555");
    ax.selectAll("text").attr("y", 6).attr("fill", "#707070").style("font-size", "8px")
        .style("font-family", "Liberation Sans");

    drawLogY(g, y, plot[0]);

    g.append("text").attr("x", (plot[0] + plot[2]) / 2).attr("y", plot[3] + 20)
        .attr("text-anchor", "middle").attr("fill", "#888").style("font-size", "8px").text(cNames[0]);
    g.append("text")
        .attr("transform", "translate(" + (plot[0] - 20) + ",519) rotate(-90)")
        .attr("text-anchor", "middle").attr("fill", "#888").style("font-size", "8px").text(cNames[1]);
}
drawGatePanel();

// TITLES AND CAPTIONS
const bigText = [
    { t: "HY-TCR control", x: 143, y: 25, size: 16.5 },
    { t: "CD4", x: 227.5, y: 198, size: 18 },
    { t: "CD4", x: 258, y: 397, size: 18 },
    { t: "Anti-HY-TCR", x: 66.5, y: 453, size: 18 },
    { t: "FSC", x: 248, y: 617, size: 18 }
];
bigText.forEach(function (d) {
    root.append("text").attr("x", d.x).attr("y", d.y).attr("text-anchor", "middle")
        .attr("font-weight", "bold").attr("fill", "#222")
        .style("font-size", d.size + "px").text(d.t);
});

let gliTitle = root.append("text").attr("x", 310).attr("y", 25).attr("text-anchor", "middle")
    .attr("font-weight", "bold").attr("fill", "#222").style("font-size", "16.5px").text("HY-TCR Gli2");
gliTitle.append("tspan").attr("dy", -6).style("font-size", "10px").text("-/-");

root.append("text").attr("transform", "translate(40,112) rotate(-90)").attr("text-anchor", "middle")
    .attr("font-weight", "bold").attr("fill", "#222").style("font-size", "17.5px").text("CD8");
root.append("text").attr("transform", "translate(53,309) rotate(-90)").attr("text-anchor", "middle")
    .attr("font-weight", "bold").attr("fill", "#222").style("font-size", "17.5px").text("CD8");

root.append("text").attr("x", 11).attr("y", 35).attr("fill", "#222").style("font-size", "32px").text("A");
root.append("text").attr("x", 10).attr("y", 247).attr("fill", "#222").style("font-size", "32px").text("B");

// DIVIDER AND ARROWS
root.append("line").attr("x1", 0).attr("x2", 416).attr("y1", 211).attr("y2", 211)
    .attr("stroke", "#aaa").attr("stroke-width", 1);

function rule(x1, y1, x2, y2, head, w) {
    root.append("line").attr("x1", x1).attr("y1", y1).attr("x2", x2).attr("y2", y2)
        .attr("stroke", "#333").attr("stroke-width", w || 1.2)
        .attr("marker-end", head ? "url(#head)" : null);
}
rule(79, 189, 198, 189);
rule(253, 189, 372, 189, true);
rule(92, 389, 220, 389, false, 1.6);
rule(293, 389, 393, 389, true, 1.6);
rule(220, 443, 193, 408, true);
rule(228, 443, 257, 408, true);
rule(48, 608.5, 48, 462, true, 1.3);
rule(48, 608.5, 221, 608.5, true, 1.3);
</script>
</body>
</html>
